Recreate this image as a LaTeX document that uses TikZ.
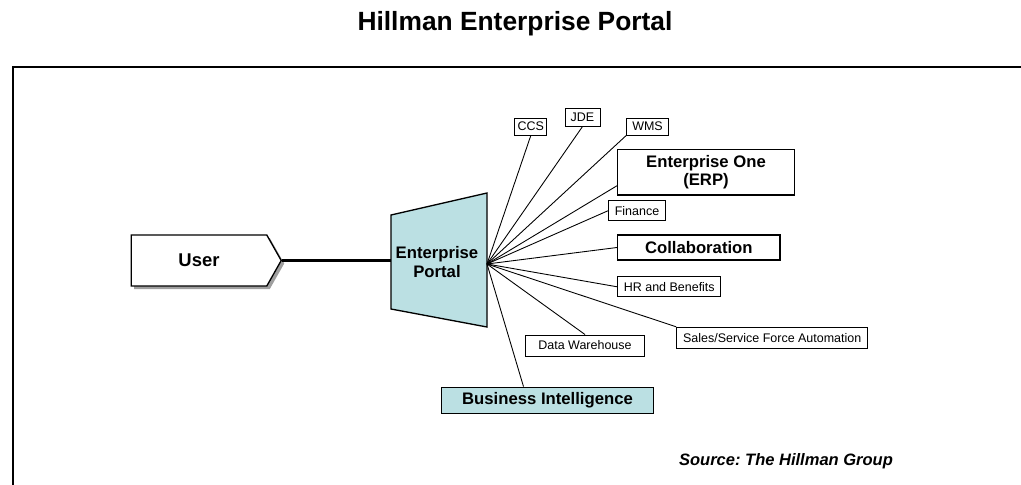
\documentclass[tikz,border=0pt]{standalone}
\usepackage{fontspec}
\setmainfont{Liberation Sans}
\usetikzlibrary{shapes.symbols,shadows}

\definecolor{portalteal}{RGB}{187,224,227}

\tikzset{
    smallbox/.style={draw, fill=white, line width=0.55pt, inner sep=0pt,
        font=\fontsize{7.1}{8.5}\selectfont},
    bigbox/.style={draw, fill=white, line width=0.8pt, inner sep=0pt, align=center,
        font=\fontsize{9.5}{9.8}\selectfont\bfseries},
    userbox/.style={draw, fill=white, line width=0.75pt, inner sep=0pt,
        signal, signal to=east, signal pointer angle=121,
        minimum width=150*0.02cm, minimum height=51*0.02cm,
        font=\fontsize{10.5}{12}\selectfont\bfseries,
        drop shadow={shadow xshift=3*0.02cm, shadow yshift=-3*0.02cm, fill=gray!75, opacity=1}},
    spoke/.style={line width=0.5pt},
}

\begin{document}
\frenchspacing
\begin{tikzpicture}[x=0.02cm, y=-0.02cm]
    \useasboundingbox (0,0) rectangle (1021,484);

    % frame, only the top and left edges show
    \draw[line width=1.15pt] (13,490) -- (13,66.7) -- (1030,66.7);

    \node[font=\fontsize{15}{17}\selectfont\bfseries] (title) at (515,24) {Hillman Enterprise Portal};

    % user and the portal
    \node[userbox] (user) at (199,260.5) {User};
    \coordinate (portalnw) at (391,215);
    \coordinate (portalne) at (487,193);
    \coordinate (portalse) at (487,327);
    \coordinate (portalsw) at (391,309);
    \coordinate (hub) at (487,264);
    \draw[fill=portalteal, line width=0.75pt] (portalnw) -- (portalne) -- (portalse) -- (portalsw) -- cycle;
    \node[align=center, font=\fontsize{9.5}{10.8}\selectfont\bfseries] (portal) at (437,262) {Enterprise\\Portal};
    \draw[line width=1.35pt] (user.east) -- (user.east -| portalnw);

    % systems behind the portal
    \node[smallbox, minimum width=31.7*0.02cm, minimum height=16.7*0.02cm] (ccs) at (530.8,126.7) {CCS};
    \node[smallbox, minimum width=35*0.02cm, minimum height=17.7*0.02cm] (jde) at (582.5,117.2) {JDE};
    \node[smallbox, minimum width=41.7*0.02cm, minimum height=16.7*0.02cm] (wms) at (647.5,126.7) {WMS};
    \node[bigbox, minimum width=176.7*0.02cm, minimum height=45.7*0.02cm] (erp) at (706,172.2) {Enterprise One\\(ERP)};
    \node[smallbox, minimum width=57.3*0.02cm, minimum height=19.7*0.02cm] (finance) at (637,210.8) {Finance};
    \node[bigbox, minimum width=162.3*0.02cm, minimum height=25*0.02cm] (collab) at (698.8,247.5) {Collaboration};
    \node[smallbox, minimum width=103.3*0.02cm, minimum height=20.3*0.02cm] (hr) at (669.3,286.8) {HR and Benefits};
    \node[smallbox, minimum width=191*0.02cm, minimum height=21*0.02cm] (sales) at (772.2,337.8) {Sales/Service Force Automation};
    \node[smallbox, minimum width=118.7*0.02cm, minimum height=21*0.02cm] (dw) at (585,345.5) {Data Warehouse};
    \node[bigbox, fill=portalteal, minimum width=211.7*0.02cm, minimum height=26*0.02cm] (bi) at (547.5,400.3) {Business Intelligence};

    \foreach \t in {ccs.south, jde.south, wms.south west, finance.west, collab.west, hr.west, sales.north west, dw.north}
        \draw[spoke] (hub) -- (\t);
    \draw[spoke] (hub) -- ([yshift=0.2cm]erp.south west);
    \draw[spoke] (hub) -- ([xshift=-0.48cm]bi.north);

    \node[font=\fontsize{9.4}{11}\selectfont\bfseries\itshape] (source) at (786,461.7) {Source: The Hillman Group};
\end{tikzpicture}
\end{document}
